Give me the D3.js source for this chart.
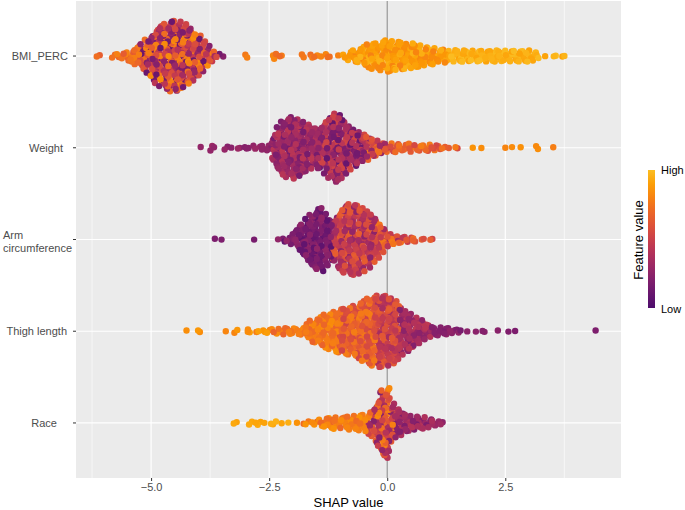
<!DOCTYPE html>
<html>
<head>
<meta charset="utf-8">
<script src="https://cdn.jsdelivr.net/npm/d3@7"></script>
<style>
  body { margin: 0; background: #fff; }
  svg { display: block; font-family: "Liberation Sans", Arial, sans-serif; }
</style>
</head>
<body>
<div id="chart"></div>
<script>
// features, top to bottom
const features = ["BMI_PERC", "Weight", "Arm circumference", "Thigh length", "Race"];

// SHAP values were read off as counts of points per 0.1-wide bin,
// starting at the bin centre given in binStart
const binWidth = 0.1;
const binStart = [-6.1, -3.9, -3.6, -4.2, -3.2];

const bmiCounts = [
  2, 0, 0, 2, 2, 3, 4, 6, 8, 11,
  14, 17, 22, 25, 27, 29, 29, 28, 26, 23,
  20, 17, 13, 9, 5, 2, 1, 0, 0, 0,
  0, 2, 0, 0, 0, 0, 0, 3, 1, 1,
  0, 0, 0, 2, 0, 2, 2, 1, 2, 1,
  0, 1, 2, 4, 5, 6, 8, 10, 11, 11,
  12, 13, 13, 12, 12, 11, 11, 10, 9, 8,
  7, 7, 6, 6, 5, 5, 5, 5, 5, 5,
  5, 5, 5, 5, 5, 5, 5, 5, 5, 5,
  5, 5, 4, 2, 1, 0, 1, 1, 1, 1
];
const weightCounts = [
  1, 0, 3, 0, 0, 2, 1, 1, 1, 2,
  1, 2, 2, 2, 3, 11, 18, 22, 24, 25,
  24, 22, 20, 18, 17, 17, 21, 25, 28, 27,
  22, 18, 15, 13, 11, 10, 8, 7, 5, 4,
  4, 4, 3, 3, 4, 3, 3, 3, 3, 3,
  2, 2, 1, 1, 1, 0, 0, 1, 0, 1,
  0, 0, 0, 0, 1, 1, 0, 1, 0, 0,
  0, 2, 0, 0, 1
];
const armCounts = [
  1, 1, 0, 0, 0, 0, 0, 0, 1, 0,
  0, 0, 0, 1, 2, 2, 5, 9, 13, 17,
  21, 25, 26, 22, 17, 18, 24, 28, 29, 29,
  28, 26, 23, 19, 15, 11, 7, 5, 4, 3,
  3, 2, 2, 1, 1, 1, 1
];
const thighCounts = [
  1, 0, 2, 0, 0, 0, 0, 0, 1, 0,
  2, 0, 1, 2, 1, 1, 2, 2, 2, 3,
  3, 3, 3, 3, 4, 6, 9, 10, 12, 14,
  15, 17, 18, 19, 19, 21, 23, 25, 27, 28,
  29, 29, 29, 27, 25, 20, 17, 15, 12, 10,
  8, 6, 4, 4, 3, 3, 2, 2, 1, 1,
  0, 1, 1, 1, 0, 1, 0, 0, 1, 1,
  0, 0, 0, 0, 0, 0, 0, 0, 0, 0,
  0, 0, 0, 0, 0, 0, 1
];
const raceCounts = [
  2, 0, 0, 2, 1, 2, 1, 1, 2, 0,
  1, 1, 0, 1, 1, 2, 1, 2, 3, 4,
  5, 5, 5, 5, 6, 6, 7, 7, 9, 12,
  19, 27, 29, 16, 12, 10, 8, 7, 6, 5,
  5, 4, 3, 2, 1
];
const counts = [bmiCounts, weightCounts, armCounts, thighCounts, raceCounts];

// feature value (0 = low, 1 = high) over SHAP ranges: [from, to, mean, spread]
const bmiColour = [[-6.2, -5.25, 0.72, 0.08], [-5.25, -3.45, 0.47, 0.36], [-3.45, -0.95, 0.76, 0.05], [-0.95, 1.3, 0.88, 0.08], [1.3, 4, 0.95, 0.04]];
const weightColour = [[-4, -2.45, 0.27, 0.05], [-2.45, -1.45, 0.3, 0.14], [-1.45, -0.45, 0.32, 0.22], [-0.45, 0.05, 0.5, 0.25], [0.05, 1.6, 0.66, 0.12], [1.6, 4, 0.82, 0.04]];
const armColour = [[-4, -2.5, 0.18, 0.03], [-2.5, -1.15, 0.17, 0.1], [-1.15, -0.25, 0.45, 0.2], [-0.25, 0.35, 0.55, 0.22], [0.35, 1.1, 0.62, 0.14]];
const thighColour = [[-4.3, -2.45, 0.84, 0.06], [-2.45, -1.0, 0.76, 0.08], [-1.0, -0.25, 0.65, 0.13], [-0.25, 0.25, 0.5, 0.15], [0.25, 1.0, 0.33, 0.12], [1.0, 4.5, 0.22, 0.05]];
const raceColour = [[-3.3, -1.95, 0.93, 0.03], [-1.95, -0.45, 0.78, 0.08], [-0.45, 0.15, 0.52, 0.3], [0.15, 1.3, 0.3, 0.12]];
const colours = [bmiColour, weightColour, armColour, thighColour, raceColour];

const xTicks = [-5, -2.5, 0, 2.5];
const xMinor = [-6.25, -3.75, -1.25, 1.25, 3.75];

// ---- layout ----
const width = 685, height = 510;
const panel = { left: 76, right: 621, top: 1, bottom: 478 };
const labelEnd = [68, 63, 75, 67, 57];
const dotR = 3.2, stackStep = 2.5;
const colourJitter = [0, 0.7, -0.9, 0.3, -0.5, 1, -0.2, -0.8, 0.5, 0.15, -0.6, 0.85, -0.35, 0.6, -1, 0.25, -0.1, 0.4, -0.7, 0.9];

const x = d3.scaleLinear().domain([-6.59, 4.95]).range([panel.left, panel.right]);
const y = d3.scalePoint().domain(features).range([panel.top, panel.bottom]).padding(0.6);
const colourOf = t => d3.interpolateInferno(0.23 + 0.62 * t);

const frac = v => v - Math.floor(v);

const svg = d3.select("#chart").append("svg")
  .attr("width", width)
  .attr("height", height);

// panel background + grid
svg.append("rect")
  .attr("x", panel.left).attr("y", panel.top)
  .attr("width", panel.right - panel.left).attr("height", panel.bottom - panel.top)
  .attr("fill", "#EBEBEB");

svg.append("g").selectAll("line").data(xMinor).join("line")
  .attr("x1", d => x(d)).attr("x2", d => x(d))
  .attr("y1", panel.top).attr("y2", panel.bottom)
  .attr("stroke", "#fff").attr("stroke-width", 0.6);

svg.append("g").selectAll("line").data(xTicks).join("line")
  .attr("x1", d => x(d)).attr("x2", d => x(d))
  .attr("y1", panel.top).attr("y2", panel.bottom)
  .attr("stroke", "#fff").attr("stroke-width", 1.2);

svg.append("g").selectAll("line").data(features).join("line")
  .attr("x1", panel.left).attr("x2", panel.right)
  .attr("y1", d => y(d)).attr("y2", d => y(d))
  .attr("stroke", "#fff").attr("stroke-width", 1.2);

// zero line
svg.append("line")
  .attr("x1", x(0)).attr("x2", x(0))
  .attr("y1", panel.top).attr("y2", panel.bottom)
  .attr("stroke", "#9a9a9a").attr("stroke-width", 1.3);

// build the points: each bin stacked around its feature row
const points = [];
features.forEach((f, fi) => {
  counts[fi].forEach((n, b) => {
    const v = binStart[fi] + b * binWidth;
    const band = colours[fi].find(c => v >= c[0] - 1e-9 && v < c[1]) || colours[fi][colours[fi].length - 1];
    for (let k = 0; k < n; k++) {
      let j = k === 0 ? 0 : (k % 2 ? -(k + 1) / 2 : k / 2);
      if (n % 2 === 0) j += 0.5;
      const shap = v + (frac(k * 0.618034 + b * 0.414214) - 0.5) * binWidth;
      const off = (j + (frac(k * 0.754878 + b * 0.56984) - 0.5) * 0.6) * stackStep;
      const t = Math.max(0, Math.min(1, band[2] + colourJitter[(k * 7 + b * 3) % colourJitter.length] * band[3]));
      points.push({ feature: f, shap, off, t, order: frac((points.length + 1) * 0.6180339887) });
    }
  });
});
points.sort((a, b) => a.order - b.order);

svg.append("defs").append("clipPath").attr("id", "clip")
  .append("rect")
  .attr("x", panel.left).attr("y", panel.top)
  .attr("width", panel.right - panel.left).attr("height", panel.bottom - panel.top);

svg.append("g").attr("clip-path", "url(#clip)")
  .selectAll("circle").data(points).join("circle")
  .attr("cx", d => x(d.shap))
  .attr("cy", d => y(d.feature) + d.off)
  .attr("r", dotR)
  .attr("fill", d => colourOf(d.t));

// x axis
const xAxis = svg.append("g")
  .attr("transform", `translate(0,${panel.bottom})`)
  .call(d3.axisBottom(x).tickValues(xTicks).tickFormat(d3.format(".1f")).tickSize(3).tickPadding(2));
xAxis.select(".domain").remove();
xAxis.selectAll(".tick line").attr("stroke", "#333").attr("stroke-width", 1);
xAxis.selectAll(".tick text").attr("fill", "#4D4D4D").style("font-size", "11px")
  .style("font-family", "'Liberation Sans', Arial, sans-serif");

svg.append("text")
  .attr("x", (panel.left + panel.right) / 2).attr("y", 507)
  .attr("text-anchor", "middle")
  .style("font-size", "13px").attr("fill", "#000")
  .text("SHAP value");

// y ticks + labels
svg.append("g").selectAll("line").data(features).join("line")
  .attr("x1", panel.left - 3).attr("x2", panel.left)
  .attr("y1", d => y(d)).attr("y2", d => y(d))
  .attr("stroke", "#333");

features.forEach((f, i) => {
  if (f === "Arm circumference") {
    const t = svg.append("text")
      .attr("fill", "#4D4D4D").style("font-size", "11px");
    t.append("tspan").attr("x", 3).attr("y", y(f) - 1).text("Arm");
    t.append("tspan").attr("x", 3).attr("y", y(f) + 12).text("circumference");
  } else {
    svg.append("text")
      .attr("x", labelEnd[i]).attr("y", y(f) + 4)
      .attr("text-anchor", "end")
      .attr("fill", "#4D4D4D").style("font-size", "11px")
      .text(f);
  }
});

// colour legend
const grad = svg.select("defs").append("linearGradient")
  .attr("id", "fv").attr("x1", "0%").attr("y1", "100%").attr("x2", "0%").attr("y2", "0%");
d3.range(0, 1.0001, 0.1).forEach(s => {
  grad.append("stop").attr("offset", `${s * 100}%`).attr("stop-color", colourOf(s));
});
const legY = d3.scaleLinear().domain([0, 1]).range([308, 170]);
svg.append("rect")
  .attr("x", 648).attr("y", legY(1))
  .attr("width", 7).attr("height", legY(0) - legY(1))
  .attr("fill", "url(#fv)");
svg.append("text").attr("x", 661).attr("y", legY(1) + 4)
  .attr("fill", "#000").style("font-size", "11px").text("High");
svg.append("text").attr("x", 661).attr("y", legY(0) + 5)
  .attr("fill", "#000").style("font-size", "11px").text("Low");
svg.append("text")
  .attr("transform", `translate(643,${(legY(0) + legY(1)) / 2 + 1}) rotate(-90)`)
  .attr("text-anchor", "middle")
  .style("font-size", "13px").attr("fill", "#000")
  .text("Feature value");
</script>
</body>
</html>
